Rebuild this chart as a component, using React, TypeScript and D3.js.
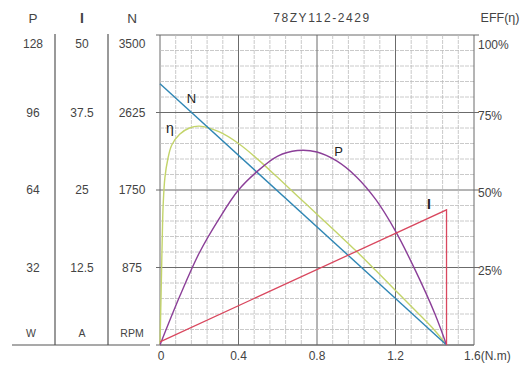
import React from "react";
import * as d3 from "d3";

// ---- data ----
const speedTorque = [0, 1.46];
const speedValues = [2950, 0]; // RPM

const currentTorque = [0, 1.46, 1.46];
const currentValues = [0.5, 21.8, 0]; // A

const powerTorque = [0, 0.1, 0.2, 0.3, 0.4, 0.5, 0.6, 0.7, 0.8, 0.9, 1.0, 1.1, 1.2, 1.3, 1.4, 1.46];
const powerValues = [0, 20, 38, 52, 64, 72, 78, 80.3, 79.7, 76, 69.5, 60, 47, 31, 13, 0]; // W

const effTorque = [0, 0.004, 0.008, 0.012, 0.016, 0.025, 0.04, 0.06, 0.1, 0.15, 0.2, 0.3, 0.4, 0.5, 0.6, 0.7, 0.8, 0.9, 1.0, 1.1, 1.2, 1.3, 1.4, 1.46];
const effValues = [0, 12, 24, 36, 45, 54, 60, 64.5, 68, 70, 70.6, 68.8, 65, 59.8, 54, 48.1, 42.2, 36.3, 30.3, 24, 17.6, 11.2, 4.7, 0]; // %

const xTicks = [0, 0.4, 0.8, 1.2, 1.6];
const pTicks = [32, 64, 96, 128];
const iTicks = [12.5, 25, 37.5, 50];
const nTicks = [875, 1750, 2625, 3500];
const effTicks = [25, 50, 75, 100];

const title = "78ZY112-2429";

export default function App() {
  const W = 524, H = 371;
  const left = 160, right = 474, top = 35, bottom = 345;
  const x = d3.scaleLinear().domain([0, 1.6]).range([left, right]);
  const yN = d3.scaleLinear().domain([0, 3500]).range([bottom, top]);
  const yI = d3.scaleLinear().domain([0, 50]).range([bottom, top]);
  const yP = d3.scaleLinear().domain([0, 128]).range([bottom, top]);
  const yE = d3.scaleLinear().domain([0, 100]).range([bottom, top]);

  const font = "'Liberation Sans', Arial, sans-serif";
  const txt = "#444";

  const mkLine = (xs: number[], ys: number[], yScale: any, curve: any) =>
    d3.line<number>().x((_, i) => x(xs[i])).y((_, i) => yScale(ys[i])).curve(curve)(xs) || "";

  const grid: JSX.Element[] = [];
  for (let i = 0; i <= 20; i++) {
    const gx = left + ((right - left) * i) / 20;
    const major = i % 5 === 0;
    grid.push(
      <line key={"v" + i} x1={gx} x2={gx} y1={top} y2={bottom}
        stroke={major ? "#6b6b6b" : "#bdbdbd"} strokeWidth={major ? 1 : 0.8}
        strokeDasharray={major ? undefined : "4,1"} />
    );
    const gy = top + ((bottom - top) * i) / 20;
    grid.push(
      <line key={"h" + i} x1={left} x2={right} y1={gy} y2={gy}
        stroke={major ? "#6b6b6b" : "#bdbdbd"} strokeWidth={major ? 1 : 0.8}
        strokeDasharray={major ? undefined : "4,1"} />
    );
  }

  const colX = { P: 33, I: 82, N: 132 };
  const smooth = d3.curveCatmullRom.alpha(0.5);
  const fs = 12;

  return (
    <svg width={W} height={H} style={{ position: "absolute", left: 0, top: 0, background: "#fff" }}
      fontFamily={font}>
      <rect x={0} y={0} width={W} height={H} fill="#fff" />
      {grid}
      {/* major tick extensions */}
      {effTicks.map((t) => (
        <line key={"re" + t} x1={right} x2={right + 5} y1={yE(t)} y2={yE(t)} stroke="#6b6b6b" />
      ))}
      {nTicks.map((t) => (
        <line key={"ln" + t} x1={left - 4} x2={left} y1={yN(t)} y2={yN(t)} stroke="#6b6b6b" />
      ))}
      <line x1={left - 4} x2={right} y1={bottom} y2={bottom} stroke="#6b6b6b" />

      {/* curves */}
      <path d={mkLine(effTorque, effValues, yE, smooth)} fill="none" stroke="#c3d46a" strokeWidth={1.4} />
      <path d={mkLine(speedTorque, speedValues, yN, d3.curveLinear)} fill="none" stroke="#2f86b4" strokeWidth={1.4} />
      <path d={mkLine(powerTorque, powerValues, yP, smooth)} fill="none" stroke="#8b3f98" strokeWidth={1.4} />
      <path d={mkLine(currentTorque, currentValues, yI, d3.curveLinear)} fill="none" stroke="#d9475e" strokeWidth={1.3} />

      {/* curve labels */}
      <text x={x(0.16)} y={yN(2780)} fontSize={13} fill="#222" textAnchor="middle" dy="0.35em">N</text>
      <text x={x(0.05)} y={yE(70)} fontSize={14} fill="#222" textAnchor="middle" dy="0.35em">η</text>
      <text x={x(0.91)} y={yP(80)} fontSize={13} fill="#222" textAnchor="middle" dy="0.35em">P</text>
      <text x={x(1.37)} y={yI(22.7)} fontSize={14} fontWeight="bold" fill="#222" textAnchor="middle" dy="0.35em">I</text>

      {/* title */}
      <text x={322} y={18} fontSize={12} letterSpacing={1.6} fill={txt} textAnchor="middle" dy="0.35em">{title}</text>
      <text x={500} y={18} fontSize={12.5} fill={txt} textAnchor="middle" dy="0.35em">EFF(η)</text>

      {/* left column headers */}
      <text x={colX.P} y={18} fontSize={13.5} fill={txt} textAnchor="middle" dy="0.35em">P</text>
      <text x={colX.I} y={18} fontSize={14} fontWeight="bold" fill={txt} textAnchor="middle" dy="0.35em">I</text>
      <text x={colX.N} y={18} fontSize={13.5} fill={txt} textAnchor="middle" dy="0.35em">N</text>

      {/* column values */}
      {pTicks.map((t, i) => (
        <text key={"p" + t} x={colX.P} y={yP(t) + (i === pTicks.length - 1 ? 9 : 0)} fontSize={fs} fill={txt} textAnchor="middle" dy="0.35em">{t}</text>
      ))}
      {iTicks.map((t, i) => (
        <text key={"i" + t} x={colX.I} y={yI(t) + (i === iTicks.length - 1 ? 9 : 0)} fontSize={fs} fill={txt} textAnchor="middle" dy="0.35em">{t}</text>
      ))}
      {nTicks.map((t, i) => (
        <text key={"n" + t} x={colX.N} y={yN(t) + (i === nTicks.length - 1 ? 9 : 0)} fontSize={fs} fill={txt} textAnchor="middle" dy="0.35em">{t}</text>
      ))}
      {/* units */}
      <text x={31} y={333} fontSize={10.5} fill={txt} textAnchor="middle" dy="0.35em">W</text>
      <text x={colX.I} y={333} fontSize={10.5} fill={txt} textAnchor="middle" dy="0.35em">A</text>
      <text x={colX.N} y={333} fontSize={10.5} fill={txt} textAnchor="middle" dy="0.35em">RPM</text>

      {/* column separators */}
      <line x1={55} x2={55} y1={34} y2={bottom} stroke="#555" strokeWidth={1.2} />
      <line x1={108} x2={108} y1={34} y2={bottom} stroke="#555" strokeWidth={1.2} />
      <line x1={12} x2={150} y1={bottom} y2={bottom} stroke="#555" strokeWidth={1.2} />

      {/* right efficiency labels */}
      {effTicks.map((t, i) => (
        <text key={"e" + t} x={478} y={yE(t) + (i === effTicks.length - 1 ? 10 : 3)} fontSize={fs} fill={txt} dy="0.35em">{t + "%"}</text>
      ))}

      {/* x labels */}
      {xTicks.map((t, i) =>
        i === xTicks.length - 1 ? (
          <text key={"x" + t} x={x(t) - 10} y={356} fontSize={fs} fill={txt} dy="0.35em">{"1.6(N.m)"}</text>
        ) : (
          <text key={"x" + t} x={x(t) + (i === 0 ? 1 : 0)} y={356} fontSize={fs} fill={txt} textAnchor="middle" dy="0.35em">{String(t)}</text>
        )
      )}
    </svg>
  );
}
